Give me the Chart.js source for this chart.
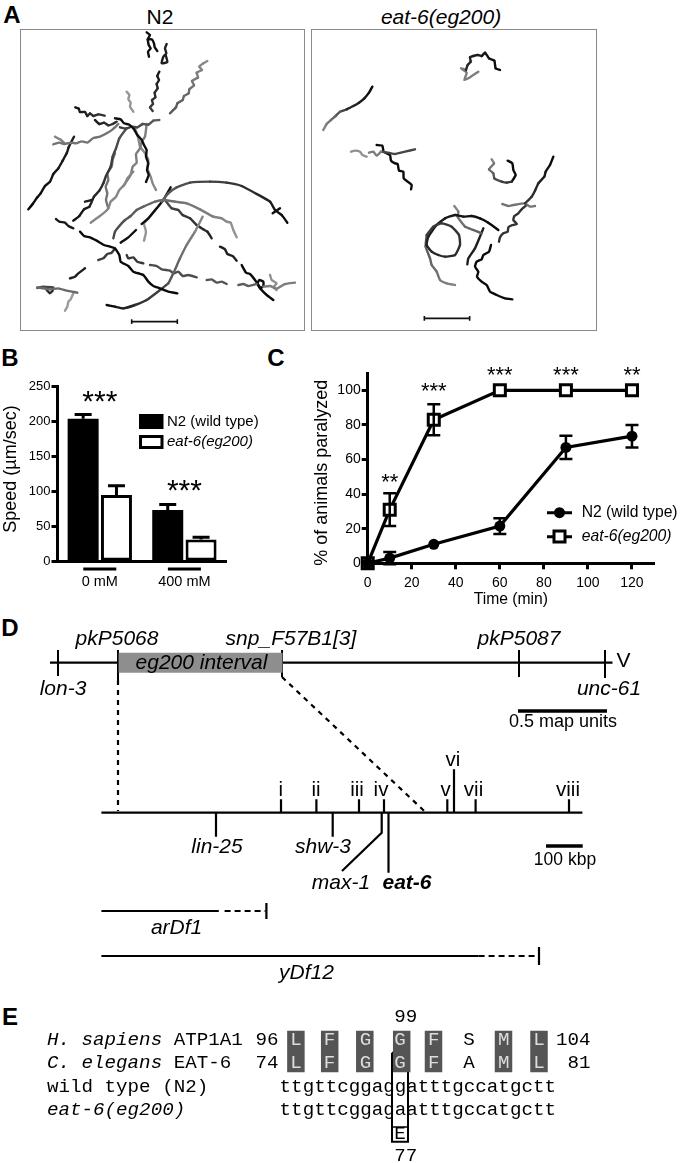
<!DOCTYPE html>
<html><head><meta charset="utf-8">
<script src="https://cdn.jsdelivr.net/npm/chart.js@4"></script>
<style>
html,body{margin:0;padding:0;background:#fff;width:680px;height:1163px;overflow:hidden}
canvas{position:absolute;display:block;filter:blur(0.3px)}
.t{position:absolute;white-space:nowrap;font-family:"Liberation Sans",Arial,sans-serif;color:#000;transform:translate(-50%,-50%);line-height:1}
.frame{position:absolute;border:1px solid #8a8a8a;box-sizing:border-box}
</style></head><body>
<script>
// ---------- Panel B data ----------
const speedCategories = ['0 mM','400 mM'];
const strainLabels = ['N2 (wild type)','eat-6(eg200)'];
const n2Speed = [204,73];
const n2SpeedErr = [6,8];
const eatSpeed = [94.5,31];
const eatSpeedErr = [13.5,3];
const speedTicks = [0,50,100,150,200,250];
const speedSigLabels = ['***','***'];
const speedSigY = [234,106];
// ---------- Panel C data ----------
const timePoints = [0,10,30,60,90,120];
const n2Paralyzed = [0,3,11,21.5,67,73.5];
const n2ParalyzedErr = [0,3.5,0,4.5,6.7,6.5];
const eatParalyzed = [0,31,83,100,100,100];
const eatParalyzedErr = [0,9.5,9,0,0,0];
const sigTimes = [10,30,60,90,120];
const sigLabels = ['**','***','***','***','**'];
const sigY = [48.5,101,110.5,110.5,110.5];
// ---------- Panel A worm tracks (plot units) ----------
const n2Tracks = [
 [[440,97],[450,105],[443,118],[455,118],[462,130],[464,142],[472,153]],
 [[443,118],[446,135],[452,145],[444,155],[447,170]],
 [[500,132],[495,145],[499,160],[490,170],[485,190],[502,186],[497,165]],
 [[478,215],[472,228],[477,240],[470,252],[473,265],[464,278],[466,292],[456,300],[459,312],[450,322],[458,333]],
 [[622,183],[610,190],[598,200],[606,210],[590,218],[594,232],[576,243],[582,256],[568,268],[566,280],[552,288],[548,300],[532,310],[528,322],[510,340]],
 [[380,275],[388,285],[385,298],[392,308],[390,320],[400,335]],
 [[226,322],[236,326],[240,336],[255,336],[262,348],[270,340],[280,348],[295,343],[314,347]],
 [[285,360],[298,372],[312,368],[325,376],[338,372],[350,365]],
 [[345,355],[362,358],[372,370],[388,374],[402,388],[412,405],[424,418],[432,435],[440,450],[438,470],[445,490],[441,510],[446,525],[438,546]],
 [[360,382],[378,386],[395,380],[412,382],[428,372],[445,374],[460,362],[478,360]],
 [[160,433],[178,428],[192,432],[215,428],[228,430],[245,424],[262,428],[280,414],[300,410],[320,400],[338,388],[355,372]],
 [[165,410],[180,418],[192,428]],
 [[85,628],[98,612],[112,592],[122,580],[135,558],[150,545],[160,522],[175,505],[188,482],[200,460],[206,442],[222,410]],
 [[220,662],[238,648],[252,628],[268,620],[282,590],[298,572],[310,550],[318,528],[332,500],[338,470],[348,445],[358,415],[380,385]],
 [[255,605],[275,600]],
 [[272,668],[290,655],[310,640],[325,625],[332,605],[348,590],[358,570],[375,552],[382,535],[400,515]],
 [[325,625],[318,600],[322,580],[317,560],[325,540],[322,520],[335,500],[338,480],[345,460]],
 [[370,558],[382,540],[392,525],[398,500],[410,488],[408,462],[420,445],[425,425],[435,410],[440,372]],
 [[405,385],[415,415],[420,440],[432,455],[445,480],[442,505],[452,530],[458,550],[468,570]],
 [[340,715],[345,695],[358,678],[375,660],[392,648],[410,630],[430,620],[465,605],[490,600],[525,605],[560,610],[600,628],[640,650],[665,655],[680,665],[692,668],[700,690],[710,712]],
 [[485,605],[505,580],[530,562],[570,548],[630,545],[680,548],[725,558],[770,582],[810,605],[825,630],[845,645],[862,668]],
 [[818,640],[840,625]],
 [[362,728],[385,712],[408,690]],
 [[425,672],[445,655],[470,625],[490,600],[512,562]],
 [[432,722],[438,695],[432,670],[450,650],[470,625]],
 [[168,657],[178,665],[195,668],[205,678],[220,685]],
 [[240,695],[252,708],[270,712],[290,722],[312,735],[330,740],[345,745],[358,765],[362,785],[385,798],[400,815],[430,825],[445,845],[460,858],[480,865],[505,875],[532,880]],
 [[210,835],[225,830],[235,820],[255,805]],
 [[295,780],[310,775],[322,762],[335,758],[345,745]],
 [[320,915],[345,920],[370,925],[405,915],[440,900],[480,870],[505,850],[520,820],[540,775],[560,735],[585,695],[608,650]],
 [[380,765],[385,775],[400,772],[412,785],[430,790]],
 [[450,795],[470,798],[485,808],[510,812],[520,820],[535,815],[548,828],[565,825],[590,832]],
 [[620,840],[635,838],[650,848],[665,845],[680,852]],
 [[715,855],[730,852],[745,858],[770,852]],
 [[790,860],[810,858],[830,866],[855,852],[885,848]],
 [[495,600],[515,625],[535,630],[548,645],[570,655],[590,675],[610,688],[622,695],[635,715]],
 [[660,740],[675,748],[682,762],[698,768],[710,782]],
 [[725,795],[738,818],[750,822],[765,840],[785,870],[800,885],[820,900]],
 [[772,850],[778,840],[790,845],[790,858],[780,865],[772,850]],
 [[112,862],[135,866],[150,868],[175,865],[200,872],[232,878]],
 [[220,880],[212,898],[205,905],[202,920],[195,932]],
 [[140,870],[150,880],[158,872]],
 [[810,825],[815,840],[830,850],[820,862],[830,870]],
 [[112,864],[130,860],[160,862]]
];
const n2Shades = [[15,15],[15,15],[30,30],[25,60],[140,90],[150,150],[20,50],[30,50],[15,15],[60,90],[115,115],[130,130],[10,30],[15,80],[30,30],[135,135],[115,115],[125,125],[135,135],[70,150],[95,10],[15,15],[15,15],[15,15],[150,150],[25,25],[10,10],[30,30],[60,60],[10,135],[55,55],[75,75],[85,85],[95,95],[125,125],[70,35],[30,30],[10,10],[10,10],[105,105],[155,155],[40,40],[145,145],[70,70]];
const n2Scale = [[395,958],[395,972],[395,965],[532,965],[532,958],[532,972]];
const eatTracks = [
 [[202,260],[192,278],[178,295],[162,308],[145,318],[125,328]],
 [[125,328],[105,335],[92,348],[78,360],[65,372],[55,390]],
 [[585,210],[572,205],[568,182],[552,175],[540,158],[530,168],[518,165],[505,168],[495,172],[497,185],[488,195],[483,210]],
 [[483,210],[468,205],[485,218],[478,240],[495,232],[520,215]],
 [[138,455],[150,452],[165,455],[172,465],[185,470]],
 [[192,458],[205,455],[215,467],[228,455]],
 [[228,455],[250,458],[270,462],[300,455],[330,448]],
 [[215,435],[232,437],[236,455],[255,465],[258,482],[270,490],[278,492],[282,512],[295,515],[296,535],[308,545],[320,555],[318,568]],
 [[560,478],[567,490],[552,508],[565,520],[568,535],[590,545],[605,548],[620,545]],
 [[608,482],[622,490],[625,510],[632,525],[620,545]],
 [[745,470],[735,495],[722,515],[718,530],[700,550],[690,572],[680,590],[660,610]],
 [[592,612],[610,618],[625,615],[660,610],[675,620],[690,618]],
 [[665,615],[650,628],[640,640],[628,648],[625,660],[636,672],[620,676],[610,682],[608,695],[595,700],[585,712],[582,725]],
 [[580,690],[550,668],[525,655],[500,648],[475,650],[450,645],[420,655],[395,675],[370,710],[365,735],[380,755],[400,765],[420,770],[450,765],[465,735],[462,705],[440,680],[410,670],[385,680],[365,705]],
 [[365,705],[362,740],[375,775],[380,795],[395,815],[405,840],[425,850],[450,855]],
 [[448,618],[460,635],[458,650],[480,680],[505,690],[530,700]],
 [[535,685],[525,710],[510,745],[490,775],[487,793]],
 [[558,735],[552,755],[535,765],[530,778],[515,785],[510,800],[520,815],[516,830],[530,845],[545,855],[555,875],[575,885],[600,895],[622,898]]
];
const eatShades = [[10,40],[70,130],[10,40],[125,125],[145,145],[125,125],[70,70],[10,10],[130,50],[10,10],[10,50],[115,115],[50,50],[10,60],[85,130],[130,95],[30,30],[10,10]];
const eatScale = [[358,948],[358,962],[358,955],[494,955],[494,948],[494,962]];
// ---------- Panel D map data ----------
const topMapLine = [50,612.5];
const topMapY = 662.7;
const intervalBand = [118.6,282.5];
const topMarkers = [58,118,282,519,605];
const topMarkerEnds = [676,680,677,677,678];
const topNames = [['pkP5068',117,639],['snp_F57B1[3]',291,639],['pkP5087',519,639],['lon-3',63,689],['unc-61',609,689],['eg200 interval',201.5,663]];
const lowerMapLine = [101.4,582.4];
const lowerMapY = 812.7;
const genePositions = [281,316.4,359,384,447.3,454,475.6,569];
const geneTops = [799.3,799.3,799.3,799.3,799.3,769.3,799.3,799.3];
const geneNames = ['i','ii','iii','iv','v','vi','vii','viii'];
const geneNameX = [280.7,316,357,381,445.6,453,473.5,568];
const geneNameY = [790.7,790.7,790.7,790.7,790.7,760,790.7,790.7];
const lociBelow = [[216,836.7],[332.7,836.7],[388.5,872.7]];
const lociNames = [['lin-25',217,847.3],['shw-3',323,847.3],['max-1',341,883]];
const max1Path = [[381.7,812.7],[381.7,832.7],[342,871]];
const dashVertical = [[118,680],[118,811]];
const dashDiagonal = [[282,677],[425,811.7]];
const arDf1Solid = [[101.4,911],[218.8,911]];
const arDf1Dash = [[224.6,911],[265.4,911]];
const arDf1End = [[266.4,903],[266.4,919]];
const yDf12Solid = [[101.4,956],[478.6,956]];
const yDf12Dash = [[478.6,956],[537.5,956]];
const yDf12End = [[539,947],[539,965]];
const mapBar = [[518,711],[607,711]];
const kbpBar = [[546,846],[582.7,846]];
// ---------- Panel E alignment ----------
const humanResidues = ['L','F','G','G','F','S','M','L'];
const wormResidues = ['L','F','G','G','F','A','M','L'];
const residueX = [296,329.6,365.4,400,433.8,469,503.8,539];
const shadedCells = [295.9,329.7,364.8,401.7,433.5,503.5,539];
const rowY = [1040,1063.3,1086.7,1110];
const wtSeq = 'ttgttcggaggatttgccatgctt';
const mutSeq = 'ttgttcggagaatttgccatgctt';

// ---------- helpers ----------
const SANS = '"Liberation Sans",Arial,sans-serif';
const MONO = '"Liberation Mono","Courier New",monospace';
const xy = p => ({x:p[0],y:p[1]});
function line(points,w,color,dash){return {data:points.map(xy),showLine:true,pointRadius:0,borderWidth:w,borderColor:color||'#000',borderDash:dash||[],borderCapStyle:'butt',tension:0,fill:false};}
function labelsPlugin(items){return {id:'labelsPlugin',afterDatasetsDraw(chart){const c=chart.ctx,{x,y}=chart.scales;items.forEach(it=>{c.save();c.font=it.font;c.fillStyle=it.color||'#000';c.textAlign=it.align||'center';c.textBaseline='middle';c.fillText(it.text,x.getPixelForValue(it.x),y.getPixelForValue(it.y));c.restore();});}};}
function mkCanvas(left,top,w,h){const c=document.createElement('canvas');c.width=w;c.height=h;c.style.cssText=`left:${left}px;top:${top}px;width:${w}px;height:${h}px`;document.body.appendChild(c);return c;}
function pageText(text,x,y,css){const d=document.createElement('div');d.className='t';d.textContent=text;d.style.cssText=`left:${x}px;top:${y}px;${css}`;document.body.appendChild(d);}
function frame(l,t,w,h){const d=document.createElement('div');d.className='frame';d.style.cssText=`left:${l}px;top:${t}px;width:${w}px;height:${h}px`;document.body.appendChild(d);}
const base={responsive:false,animation:false,events:[],plugins:{legend:{display:false},tooltip:{enabled:false}}};
function hiddenScales(x0,x1,y0,y1){return {x:{type:'linear',display:false,min:x0,max:x1},y:{type:'linear',display:false,min:y0,max:y1,reverse:true}};}
function asterisk(c,text,px,py,size){c.save();c.font=`${size}px ${SANS}`;c.fillStyle='#000';c.textAlign='center';c.textBaseline='alphabetic';c.fillText(text,px,py+0.44*size);c.restore();}
function yTitle(c,text,px,py,size){c.save();c.translate(px,py);c.rotate(-Math.PI/2);c.font=`${size}px ${SANS}`;c.fillStyle='#000';c.textAlign='center';c.textBaseline='middle';c.fillText(text,0,0);c.restore();}

// ---------- titles and panel letters ----------
[['A',12,15],['B',10,358],['C',276,358],['D',10,628],['E',10,1017]].forEach(l=>pageText(l[0],l[1],l[2],'font-size:24px;font-weight:bold'));
pageText('N2',160,16,'font-size:21px');
pageText(strainLabels[1],441,16,'font-size:21px;font-style:italic');

// ---------- Panel A ----------
function tracksChart(left,units,tracks,shades,bar){
  const ds=tracks.map((t,i)=>{const d=line(t,2.4,`rgb(${shades[i][0]},${shades[i][0]},${shades[i][0]})`);
    d.tension=0.15;d.borderCapStyle='round';
    d.segment={borderColor:ctx=>{const f=ctx.p0DataIndex/Math.max(1,t.length-2),g=Math.round(shades[i][0]+(shades[i][1]-shades[i][0])*f);return `rgb(${g},${g},${g})`;}};
    return d;});
  ds.push(line(bar,1.6,'#111'));
  new Chart(mkCanvas(left,29,285,302),{type:'scatter',data:{datasets:ds},options:{...base,layout:{padding:0},scales:hiddenScales(units,units+855,87,993)}});
}
frame(20,29,285,302);
frame(311,29,286,302);
tracksChart(20,60,n2Tracks,n2Shades,n2Scale);
tracksChart(311,18,eatTracks,eatShades,eatScale);

// ---------- Panel B ----------
const errPluginB={id:'errB',afterDatasetsDraw(chart){const c=chart.ctx,{x,y}=chart.scales;
  const errs=[n2SpeedErr,eatSpeedErr],vals=[n2Speed,eatSpeed];
  c.save();c.strokeStyle='#000';c.lineWidth=3;
  [0,1].forEach(d=>chart.getDatasetMeta(d).data.forEach((el,i)=>{const top=y.getPixelForValue(vals[d][i]+errs[d][i]),bot=y.getPixelForValue(vals[d][i]);
    c.beginPath();c.moveTo(el.x,bot);c.lineTo(el.x,top);c.moveTo(el.x-8.5,top);c.lineTo(el.x+8.5,top);c.stroke();}));
  speedCategories.forEach((cat,i)=>{const p=x.getPixelForTick(i);c.beginPath();c.moveTo(p-16.5,229);c.lineTo(p+16.5,229);c.stroke();
    asterisk(c,speedSigLabels[i],p,y.getPixelForValue(speedSigY[i]),30);});
  yTitle(c,'Speed (µm/sec)',10.7,129,18);
  // legend
  c.fillStyle='#000';c.fillRect(139,74,24.5,15);
  c.lineWidth=3;c.strokeRect(140.5,96.5,21.5,11);
  c.font=`15px ${SANS}`;c.textAlign='left';c.textBaseline='middle';c.fillText(strainLabels[0],167,81.5);
  c.font=`italic 15px ${SANS}`;c.fillText(strainLabels[1],167,101.5);
  c.restore();}};
new Chart(mkCanvas(0,340,270,270),{type:'bar',data:{labels:speedCategories,datasets:[
  {label:strainLabels[0],data:n2Speed,backgroundColor:'#000',borderColor:'#000',borderWidth:0,categoryPercentage:0.788,barPercentage:0.93},
  {label:strainLabels[1],data:eatSpeed,backgroundColor:'#fff',borderColor:'#000',borderWidth:3,borderSkipped:false,categoryPercentage:0.788,barPercentage:0.93}]},
  options:{...base,layout:{padding:{top:46.7,right:43.3,left:0,bottom:0}},scales:{
    x:{grid:{display:false},border:{color:'#000',width:3},afterFit(s){s.height=49;},ticks:{color:'#000',font:{family:SANS,size:14.5},padding:4,maxRotation:0}},
    y:{min:0,max:250,afterBuildTicks(s){s.ticks=speedTicks.map(v=>({value:v}));},grid:{drawOnChartArea:false,tickLength:6,tickWidth:3,tickColor:'#000'},border:{color:'#000',width:3},afterFit(s){s.width=57.5;},
       ticks:{color:'#000',font:{family:SANS,size:13},padding:1}}}},
  plugins:[errPluginB]});

// ---------- Panel C ----------
const errPluginC={id:'errC',afterDatasetsDraw(chart){const c=chart.ctx,{x,y}=chart.scales;
  c.save();c.strokeStyle='#000';c.lineWidth=2.5;
  [[n2Paralyzed,n2ParalyzedErr],[eatParalyzed,eatParalyzedErr]].forEach(s=>timePoints.forEach((t,i)=>{if(!s[1][i])return;const px=x.getPixelForValue(t),a=y.getPixelForValue(s[0][i]+s[1][i]),b=y.getPixelForValue(s[0][i]-s[1][i]);
    c.beginPath();c.moveTo(px,a);c.lineTo(px,b);c.moveTo(px-6.5,a);c.lineTo(px+6.5,a);c.moveTo(px-6.5,b);c.lineTo(px+6.5,b);c.stroke();}));
  sigTimes.forEach((t,i)=>asterisk(c,sigLabels[i],x.getPixelForValue(t),y.getPixelForValue(sigY[i]),22));
  yTitle(c,'% of animals paralyzed',51.7,132.7,18);
  // legend
  c.lineWidth=3;c.beginPath();c.moveTo(277,172.7);c.lineTo(302,172.7);c.moveTo(277,196.7);c.lineTo(302,196.7);c.stroke();
  c.fillStyle='#000';c.beginPath();c.arc(289.5,172.7,5.5,0,Math.PI*2);c.fill();
  c.fillStyle='#fff';c.fillRect(284,191,11,11);c.strokeRect(284,191,11,11);
  c.fillStyle='#000';c.font=`15.7px ${SANS}`;c.textAlign='left';c.textBaseline='middle';c.fillText(strainLabels[0],311.7,172.7);
  c.font=`italic 15.7px ${SANS}`;c.fillText(strainLabels[1],311.7,196.7);
  c.restore();}};
new Chart(mkCanvas(270,340,410,270),{type:'scatter',data:{datasets:[
  {label:strainLabels[0],data:timePoints.map((t,i)=>({x:t,y:n2Paralyzed[i]})),showLine:true,borderColor:'#000',borderWidth:3.2,backgroundColor:'#000',pointRadius:5.5,pointBorderWidth:0,clip:false,tension:0},
  {label:strainLabels[1],data:timePoints.map((t,i)=>({x:t,y:eatParalyzed[i]})),showLine:true,borderColor:'#000',borderWidth:3.2,backgroundColor:'#fff',pointStyle:'rect',pointRadius:7.8,pointBorderWidth:3,clip:false,tension:0}]},
  options:{...base,layout:{padding:{top:33,right:26,left:0,bottom:0}},scales:{
    x:{type:'linear',min:0,max:130,grid:{drawOnChartArea:false,tickLength:6,tickWidth:3,tickColor:'#000'},border:{color:'#000',width:3},afterFit(s){s.height=46.7;},
       ticks:{stepSize:20,includeBounds:false,color:'#000',font:{family:SANS,size:14},padding:5,maxRotation:0},
       title:{display:true,text:'Time (min)',color:'#000',font:{family:SANS,size:15.7},padding:1}},
    y:{type:'linear',min:0,max:110,grid:{drawOnChartArea:false,tickLength:6,tickWidth:3,tickColor:'#000'},border:{color:'#000',width:3},afterFit(s){s.width=97.7;},
       ticks:{stepSize:20,includeBounds:false,color:'#000',font:{family:SANS,size:14},padding:1}}}},
  plugins:[errPluginC]});

// ---------- Panel D ----------
const dSets=[];
dSets.push(line([[intervalBand[0],topMapY],[intervalBand[1],topMapY]],20,'#8e8e8e'));
dSets.push(line([[topMapLine[0],topMapY],[topMapLine[1],topMapY]],2.2));
topMarkers.forEach((m,i)=>dSets.push(line([[m,650],[m,topMarkerEnds[i]]],2)));
dSets.push(line(dashVertical,2.2,'#000',[5,5]));
dSets.push(line(dashDiagonal,2.2,'#000',[5,5]));
dSets.push(line(mapBar,3.5));
dSets.push(line([[lowerMapLine[0],lowerMapY],[lowerMapLine[1],lowerMapY]],2.2));
genePositions.forEach((g,i)=>dSets.push(line([[g,geneTops[i]],[g,lowerMapY]],2.2)));
lociBelow.forEach(l=>dSets.push(line([[l[0],lowerMapY],l],2.2)));
dSets.push(line(max1Path,2.2));
dSets.push(line(arDf1Solid,2.2));dSets.push(line(arDf1Dash,2.2,'#000',[6,4]));dSets.push(line(arDf1End,2.2));
dSets.push(line(yDf12Solid,2.2));dSets.push(line(yDf12Dash,2.2,'#000',[6,4]));dSets.push(line(yDf12End,2.2));
dSets.push(line(kbpBar,3.5));
const it21=`italic 21px ${SANS}`;
const dItems=[];
topNames.forEach(n=>dItems.push({text:n[0],x:n[1],y:n[2],font:it21}));
lociNames.forEach(n=>dItems.push({text:n[0],x:n[1],y:n[2],font:it21}));
dItems.push({text:'eat-6',x:407,y:883,font:`italic bold 21px ${SANS}`});
dItems.push({text:'arDf1',x:176.6,y:928,font:it21},{text:'yDf12',x:306.5,y:972.7,font:it21});
dItems.push({text:'V',x:623.5,y:661.7,font:`21px ${SANS}`});
dItems.push({text:'0.5 map units',x:563,y:722,font:`18px ${SANS}`},{text:'100 kbp',x:565,y:860,font:`17.5px ${SANS}`});
geneNames.forEach((n,i)=>dItems.push({text:n,x:geneNameX[i],y:geneNameY[i],font:`20.5px ${SANS}`}));
new Chart(mkCanvas(0,610,680,390),{type:'scatter',data:{datasets:dSets},options:{...base,layout:{padding:0},scales:hiddenScales(0,680,610,1000)},plugins:[labelsPlugin(dItems)]});

// ---------- Panel E ----------
const eSets=[];
shadedCells.forEach(x=>eSets.push(line([[x,1030.7],[x,1072.3]],17.5,'#555')));
eSets.push(line([[392,1052.7],[408,1052.7],[408,1141.7],[392,1141.7],[392,1052.7]],2));
eSets.push(line([[393,1127],[407,1127]],1.5));
const mono=`19.2px ${MONO}`, monoI=`italic 19.2px ${MONO}`;
const eItems=[
 {text:'99',x:405.8,y:1016.7,font:mono},{text:'77',x:405.8,y:1156,font:mono},
 {text:'H. sapiens',x:47,y:rowY[0],font:monoI,align:'left'},{text:'ATP1A1',x:173.8,y:rowY[0],font:mono,align:'left'},{text:'96',x:255.5,y:rowY[0],font:mono,align:'left'},{text:'104',x:556,y:rowY[0],font:mono,align:'left'},
 {text:'C. elegans',x:47,y:rowY[1],font:monoI,align:'left'},{text:'EAT-6',x:173.8,y:rowY[1],font:mono,align:'left'},{text:'74',x:255.5,y:rowY[1],font:mono,align:'left'},{text:'81',x:567.5,y:rowY[1],font:mono,align:'left'},
 {text:'wild type (N2)',x:47,y:rowY[2],font:mono,align:'left'},{text:wtSeq,x:279.6,y:rowY[2],font:mono,align:'left'},
 {text:'eat-6(eg200)',x:47,y:rowY[3],font:monoI,align:'left'},{text:mutSeq,x:279.6,y:rowY[3],font:mono,align:'left'},
 {text:'E',x:400,y:1134,font:mono}
];
humanResidues.forEach((r,i)=>eItems.push({text:r,x:residueX[i],y:rowY[0],font:mono,color:r==='S'?'#000':'#ddd'}));
wormResidues.forEach((r,i)=>eItems.push({text:r,x:residueX[i],y:rowY[1],font:mono,color:r==='A'?'#000':'#ddd'}));
new Chart(mkCanvas(0,1000,680,163),{type:'scatter',data:{datasets:eSets},options:{...base,layout:{padding:0},scales:hiddenScales(0,680,1000,1163)},plugins:[labelsPlugin(eItems)]});
</script>
</body></html>
